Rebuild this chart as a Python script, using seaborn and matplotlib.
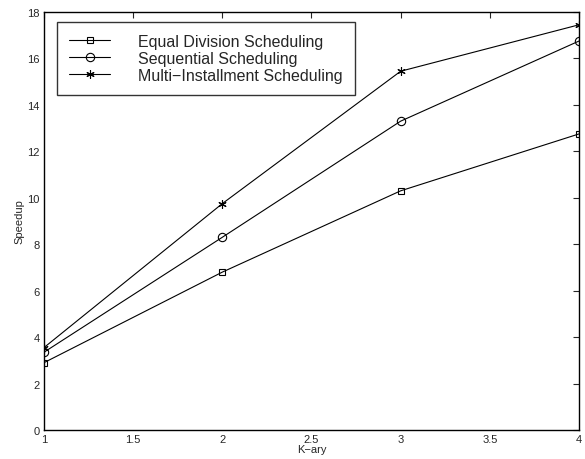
import matplotlib
matplotlib.use("Agg")
import matplotlib.pyplot as plt
import seaborn as sns
import pandas as pd

k_ary = [1, 2, 3, 4]
equal_division = [2.9, 6.8, 10.3, 12.75]
sequential = [3.35, 8.3, 13.3, 16.75]
multi_installment = [3.55, 9.75, 15.45, 17.45]
labels = ["Equal Division Scheduling", "Sequential Scheduling", "Multi\u2212Installment Scheduling"]

sns.set_style("white")
plt.rcParams['font.family'] = ['Liberation Sans', 'DejaVu Sans']

fig = plt.figure(figsize=(5.85, 4.6), dpi=100)
ax = fig.add_axes([0.0752, 0.063, 0.9145, 0.9087])

markers = ['s', 'o', (6, 2, 0)]
sizes = [4.5, 6, 6]
for vals, lab, m, s in zip([equal_division, sequential, multi_installment], labels, markers, sizes):
    df = pd.DataFrame({"x": k_ary, "y": vals})
    sns.lineplot(data=df, x="x", y="y", ax=ax, color="black", linewidth=0.8,
                 marker=m, markersize=s, markerfacecolor="none", markeredgecolor="black",
                 markeredgewidth=0.8, label=lab)

ax.set_xlim(1, 4)
ax.set_ylim(0, 18)
ax.set_xticks([1, 1.5, 2, 2.5, 3, 3.5, 4])
ax.set_xticklabels(["1", "1.5", "2", "2.5", "3", "3.5", "4"])
ax.set_yticks(range(0, 19, 2))
ax.tick_params(direction="in", length=4, width=0.8, labelsize=8, top=True, right=True, pad=3)
for sp in ax.spines.values():
    sp.set_linewidth(1.0)
    sp.set_color("black")
ax.set_xlabel("K\u2212ary", fontsize=8, labelpad=0)
ax.set_ylabel("Speedup", fontsize=8, labelpad=2)

leg = ax.legend(loc="upper left", bbox_to_anchor=(0.024, 0.976), borderaxespad=0,
                fontsize=11.5, frameon=True, fancybox=False, edgecolor="black",
                handlelength=2.6, handletextpad=1.75, borderpad=0.75, labelspacing=0.12)
leg.get_frame().set_linewidth(1.0)

fig.savefig("out.png", dpi=100)
